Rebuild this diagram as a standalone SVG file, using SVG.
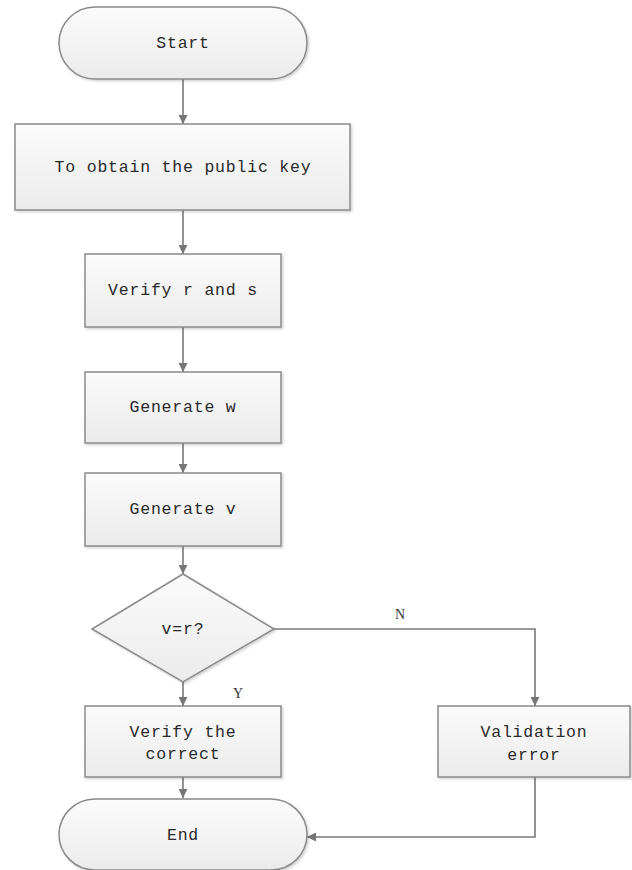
<svg xmlns="http://www.w3.org/2000/svg" width="632" height="870" viewBox="0 0 632 870">
  <defs>
    <linearGradient id="fillGrad" x1="0" y1="0" x2="0" y2="1">
      <stop offset="0" stop-color="#fbfbfb"/>
      <stop offset="1" stop-color="#ebebeb"/>
    </linearGradient>
    <filter id="shadow" x="-10%" y="-10%" width="130%" height="130%">
      <feDropShadow dx="1.5" dy="1.5" stdDeviation="1" flood-color="#000" flood-opacity="0.18"/>
    </filter>
    <marker id="arrow" viewBox="0 0 10 10" refX="10" refY="5" markerWidth="9" markerHeight="9" markerUnits="userSpaceOnUse" orient="auto">
      <path d="M0,0 L10,5 L0,10 z" fill="#767676"/>
    </marker>
  </defs>
  <style>
    .shape { fill: url(#fillGrad); stroke: #8a8a8a; stroke-width: 1.5; filter: url(#shadow); }
    .edge { fill: none; stroke: #7a7a7a; stroke-width: 1.6; marker-end: url(#arrow); }
    .label { font-family: "Liberation Mono", "DejaVu Sans Mono", monospace; font-size: 16.5px; fill: #2a2a2a; text-anchor: middle; letter-spacing: 0.8px; }
    .tag { font-family: "Liberation Serif", serif; font-size: 14px; fill: #333; text-anchor: middle; }
  </style>

  <!-- connectors -->
  <g id="connectors">
    <path class="edge" d="M183,79 V124"/>
    <path class="edge" d="M183,210 V254"/>
    <path class="edge" d="M183,327 V372"/>
    <path class="edge" d="M183,443 V473"/>
    <path class="edge" d="M183,546 V574"/>
    <path class="edge" d="M183,682 V706"/>
    <path class="edge" d="M183,777 V798"/>
    <path class="edge" d="M274,629 H535 V706"/>
    <path class="edge" d="M535,777 V837 H307"/>
    <text class="tag" x="400" y="619">N</text>
    <text class="tag" x="238" y="698">Y</text>
  </g>

  <g id="start">
    <rect class="shape" x="59" y="7" width="248" height="72" rx="36" ry="36"/>
    <text class="label" x="183" y="48">Start</text>
  </g>

  <g id="obtain-key">
    <rect class="shape" x="15" y="124" width="335" height="86"/>
    <text class="label" x="183" y="172">To obtain the public key</text>
  </g>

  <g id="verify-rs">
    <rect class="shape" x="85" y="254" width="196" height="73"/>
    <text class="label" x="183" y="295">Verify r and s</text>
  </g>

  <g id="generate-w">
    <rect class="shape" x="85" y="372" width="196" height="71"/>
    <text class="label" x="183" y="412">Generate w</text>
  </g>

  <g id="generate-v">
    <rect class="shape" x="85" y="473" width="196" height="73"/>
    <text class="label" x="183" y="514">Generate v</text>
  </g>

  <g id="decision">
    <polygon class="shape" points="183,574 274,629 183,682 92,629"/>
    <text class="label" x="183" y="634">v=r?</text>
  </g>

  <g id="verify-correct">
    <rect class="shape" x="85" y="706" width="196" height="71"/>
    <text class="label" x="183" y="737">Verify the</text>
    <text class="label" x="183" y="759">correct</text>
  </g>

  <g id="validation-error">
    <rect class="shape" x="438" y="706" width="192" height="71"/>
    <text class="label" x="534" y="737">Validation</text>
    <text class="label" x="534" y="760">error</text>
  </g>

  <g id="end">
    <rect class="shape" x="59" y="799" width="248" height="71" rx="36" ry="36"/>
    <text class="label" x="183" y="840">End</text>
  </g>
</svg>
